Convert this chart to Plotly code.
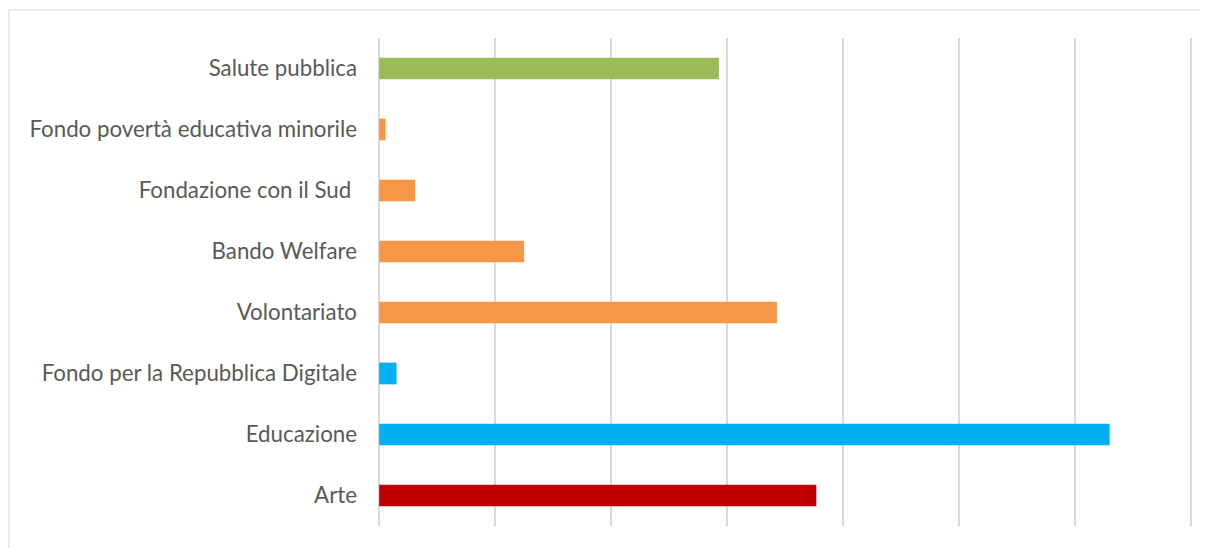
import plotly.graph_objects as go

categories = [
    "Arte",
    "Educazione",
    "Fondo per la Repubblica Digitale",
    "Volontariato",
    "Bando Welfare",
    "Fondazione con il Sud\u00a0",
    "Fondo povertà educativa minorile",
    "Salute pubblica",
]
values = [3.77, 6.30, 0.15, 3.43, 1.25, 0.31, 0.056, 2.93]
colors = ["#C00000", "#00B0F0", "#00B0F0", "#F79646", "#F79646", "#F79646", "#F79646", "#9BBB59"]

# page body has an 8px margin; figure is offset by (8, 8) in the window
OFF = 8
W, H = 1200, 540
x_range = [-0.01, 7.01]
ml, mt = 378 - OFF, 38 - OFF
mr = W - (1192 - OFF)
mb = H - (526 - OFF)

fig = go.Figure(go.Bar(
    y=categories, x=values, orientation="h",
    marker=dict(color=colors, line=dict(width=0)),
    width=0.356,
))

pw = W - ml - mr
ph = H - mt - mb
bx0, by0 = 9 - OFF, 10 - OFF
fig.add_shape(
    type="rect", xref="paper", yref="paper",
    x0=(bx0 - ml) / pw, x1=(W + 10 - ml) / pw,
    y0=1 - (H + 10 - mt) / ph, y1=1 - (by0 - mt) / ph,
    line=dict(color="#d9d9d9", width=1), fillcolor="rgba(0,0,0,0)", layer="below",
)

fig.update_layout(
    width=W, height=H,
    margin=dict(l=ml, r=mr, t=mt, b=mb, pad=0),
    paper_bgcolor="white", plot_bgcolor="white",
    showlegend=False,
    font=dict(family="Lato", color="#595959", size=22),
    xaxis=dict(range=x_range, dtick=1, tick0=0, showgrid=True, gridcolor="#d9d9d9",
               gridwidth=1.5, zeroline=True, zerolinecolor="#d9d9d9", zerolinewidth=1.5,
               showticklabels=False, showline=False, fixedrange=True),
    yaxis=dict(range=[-0.5, 7.5], showgrid=False, showline=False, zeroline=False,
               ticks="", ticklabelstandoff=20, tickfont=dict(size=22.3, color="#595959"),
               fixedrange=True),
)

fig.write_html("out.html")
